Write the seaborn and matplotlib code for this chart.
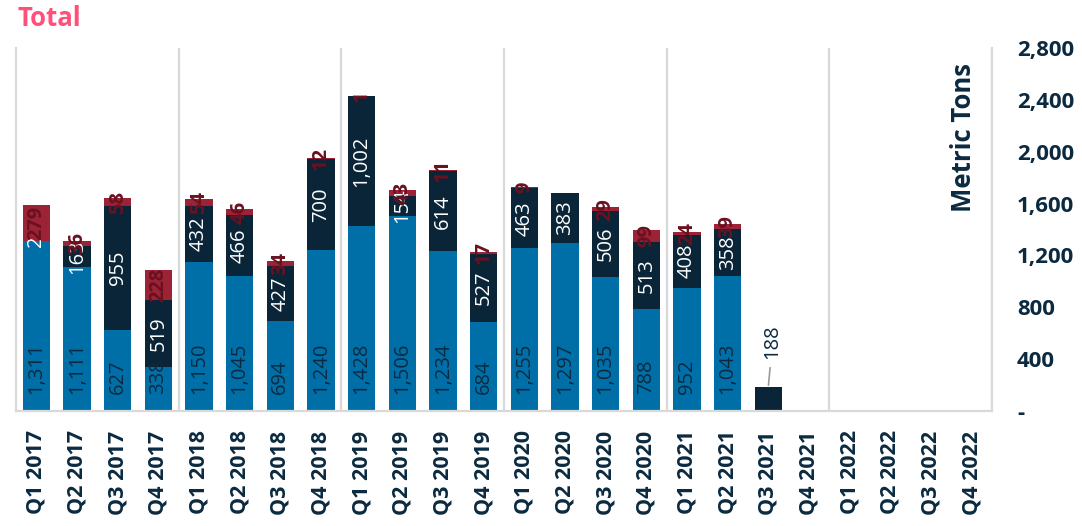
import matplotlib
matplotlib.use("Agg")
import matplotlib.pyplot as plt
import seaborn as sns
import pandas as pd
import numpy as np

nan = np.nan

quarters = [
    "Q1 2017", "Q2 2017", "Q3 2017", "Q4 2017",
    "Q1 2018", "Q2 2018", "Q3 2018", "Q4 2018",
    "Q1 2019", "Q2 2019", "Q3 2019", "Q4 2019",
    "Q1 2020", "Q2 2020", "Q3 2020", "Q4 2020",
    "Q1 2021", "Q2 2021", "Q3 2021", "Q4 2021",
    "Q1 2022", "Q2 2022", "Q3 2022", "Q4 2022",
]

# Stacked segments, bottom to top (metric tons)
segment_base = [1311, 1111, 627, 338, 1150, 1045, 694, 1240, 1428, 1506, 1234, 684,
                1255, 1297, 1035, 788, 952, 1043, nan, nan, nan, nan, nan, nan]
segment_mid = [2, 163, 955, 519, 432, 466, 427, 700, 1002, 154, 614, 527,
               463, 383, 506, 513, 408, 358, 188, nan, nan, nan, nan, nan]
segment_top = [279, 36, 58, 228, 54, 46, 34, 12, 1, 43, 11, 17,
               9, 0, 29, 99, 24, 39, nan, nan, nan, nan, nan, nan]

y_ticks = [0, 400, 800, 1200, 1600, 2000, 2400, 2800]
y_tick_labels = ["-", "400", "800", "1,200", "1,600", "2,000", "2,400", "2,800"]

BLUE = "#006fa8"
NAVY = "#0a2538"
RED = "#9c2236"
RED_TEXT = "#6a1120"
TEXT = "#0b2a40"
PINK = "#ff4f7b"
RULE = "#d9d9d9"

sns.set_theme(style="white")
plt.rcParams["font.family"] = ["Open Sans", "DejaVu Sans"]

df = pd.DataFrame({"quarter": quarters, "base": segment_base,
                   "mid": segment_mid, "top": segment_top})
df["base_f"] = df["base"].fillna(0)
df["mid_f"] = df["mid"].fillna(0)
df["top_f"] = df["top"].fillna(0)
df["cum_mid"] = (df["base_f"] + df["mid_f"]).where(df["mid"].notna())
df["cum_top"] = (df["base_f"] + df["mid_f"] + df["top_f"]).where(df["top"].notna())

fig = plt.figure(figsize=(10.82, 5.26), dpi=100)
ax = fig.add_axes([16 / 1082, 1 - 411 / 526, 976 / 1082, 363 / 526])

bar_w = 0.68
common = dict(x="quarter", order=quarters, width=bar_w, saturation=1,
              linewidth=0, ax=ax, errorbar=None)
# Overlaid cumulative bars give the stacked look
sns.barplot(data=df, y="cum_top", color=RED, **common)
sns.barplot(data=df, y="cum_mid", color=NAVY, **common)
sns.barplot(data=df, y="base", color=BLUE, **common)

ax.set_xlim(-0.5, len(quarters) - 0.5)
ax.set_ylim(0, 2800)

# Year separators and frame
for sep in np.arange(3.5, len(quarters), 4):
    ax.axvline(sep, color=RULE, lw=1.6, zorder=0.5)
ax.spines["top"].set_visible(False)
for side in ["left", "bottom", "right"]:
    ax.spines[side].set_color(RULE)
    ax.spines[side].set_linewidth(1.6)

# Value labels
for i in range(len(quarters)):
    b, m, t = segment_base[i], segment_mid[i], segment_top[i]
    b0 = 0 if np.isnan(b) else b
    if not np.isnan(b):
        ax.annotate(f"{b:,.0f}", xy=(i, 0), xytext=(0, 12), textcoords="offset points",
                    rotation=90, ha="center", va="bottom", color=TEXT,
                    fontsize=14.5, zorder=5)
    if not np.isnan(m):
        if np.isnan(b):
            ax.annotate(f"{m:,.0f}", xy=(i, b0 + m), xytext=(3, 20),
                        textcoords="offset points", rotation=90, ha="center",
                        va="bottom", color=TEXT, fontsize=14.5, zorder=5,
                        arrowprops=dict(arrowstyle="-", color="#9a9a9a", lw=1.2,
                                        shrinkA=4, shrinkB=1))
        else:
            ax.text(i, b0 + m / 2, f"{m:,.0f}", rotation=90, ha="center",
                    va="center", color="white", fontsize=14.5, zorder=5)
    if not np.isnan(t) and t > 0:
        ax.text(i, b0 + m + t / 2, f"{t:,.0f}", rotation=90, ha="center",
                va="center", color=RED_TEXT, fontsize=14.5, fontweight="bold", zorder=6)

# Axes text
ax.set_xlabel("")
ax.set_ylabel("")
ax.set_xticks(range(len(quarters)))
ax.set_xticklabels(quarters, rotation=90, fontsize=15.5, fontweight="bold", color=TEXT)
ax.tick_params(axis="x", length=0, pad=14)

ax.yaxis.tick_right()
ax.set_yticks(y_ticks)
ax.set_yticklabels(y_tick_labels, fontsize=16, fontweight="bold", color=TEXT)
ax.tick_params(axis="y", length=0, pad=18)

ax.text(0.971, 0.753, "Metric Tons", transform=ax.transAxes, rotation=90,
        ha="center", va="center", fontsize=18.5, fontweight="bold", color=TEXT)

fig.text(17 / 1082, 1 - 5 / 526, "Total", ha="left", va="top",
         fontsize=18.5, fontweight="bold", color=PINK)

fig.savefig("out.png", dpi=100)
